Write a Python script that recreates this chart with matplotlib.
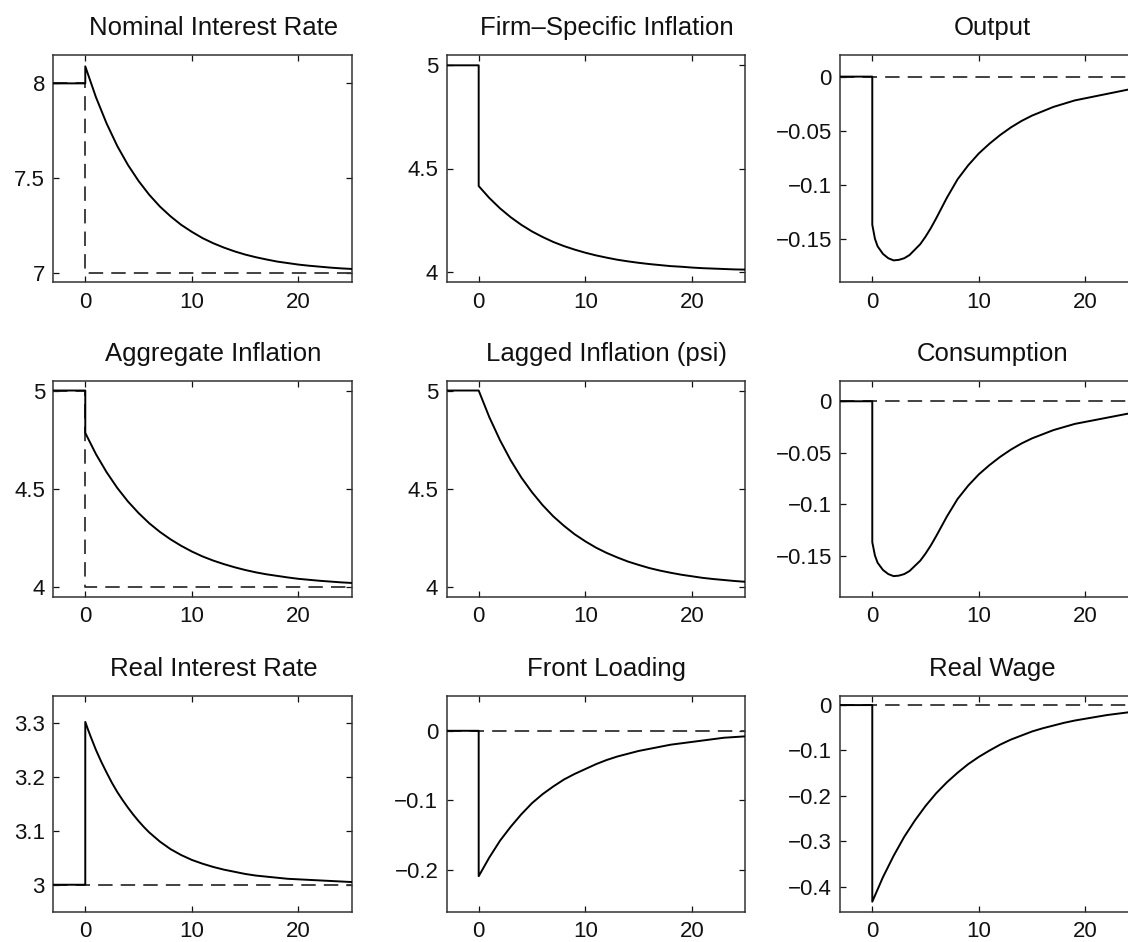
import matplotlib
matplotlib.use("Agg")
import matplotlib.pyplot as plt

plt.rcParams['font.family'] = ['Liberation Sans', 'DejaVu Sans']

# ---------------- data ----------------
t_pre = [-3, 0]
t_int = list(range(0, 26))
t_fine = [0, 0.25, 0.5, 1, 1.5, 2, 2.5, 3, 3.5, 4, 4.5, 5, 5.5, 6] + list(range(7, 26))

titles = ["Nominal Interest Rate", "Firm\u2013Specific Inflation", "Output",
          "Aggregate Inflation", "Lagged Inflation (psi)", "Consumption",
          "Real Interest Rate", "Front Loading", "Real Wage"]

# values on t_int
nominal_rate = [8.090, 7.927, 7.788, 7.669, 7.569, 7.484, 7.411, 7.349, 7.297, 7.252,
                7.215, 7.182, 7.155, 7.132, 7.112, 7.095, 7.081, 7.069, 7.058, 7.050,
                7.042, 7.036, 7.031, 7.026, 7.022, 7.019]
firm_inflation = [4.415, 4.357, 4.307, 4.264, 4.227, 4.195, 4.168, 4.144, 4.124, 4.107,
                  4.092, 4.079, 4.068, 4.058, 4.050, 4.043, 4.037, 4.032, 4.027, 4.024,
                  4.020, 4.017, 4.015, 4.013, 4.011, 4.010]
agg_inflation = [4.784, 4.676, 4.584, 4.504, 4.435, 4.376, 4.324, 4.280, 4.242, 4.209,
                 4.180, 4.155, 4.134, 4.116, 4.100, 4.086, 4.074, 4.064, 4.056, 4.048,
                 4.041, 4.036, 4.031, 4.027, 4.023, 4.020]
lagged_inflation = [5.000, 4.864, 4.747, 4.645, 4.557, 4.482, 4.416, 4.359, 4.311, 4.268,
                    4.232, 4.200, 4.173, 4.150, 4.129, 4.112, 4.096, 4.083, 4.072, 4.062,
                    4.054, 4.046, 4.040, 4.035, 4.030, 4.026]
front_loading = [-0.209, -0.182, -0.158, -0.138, -0.120, -0.104, -0.091, -0.080, -0.070, -0.062,
                 -0.055, -0.048, -0.042, -0.037, -0.033, -0.029, -0.026, -0.023, -0.020, -0.018,
                 -0.016, -0.014, -0.012, -0.010, -0.009, -0.008]
real_wage = [-0.433, -0.379, -0.332, -0.290, -0.254, -0.222, -0.194, -0.170, -0.149, -0.130,
             -0.114, -0.100, -0.087, -0.076, -0.067, -0.058, -0.051, -0.045, -0.039, -0.034,
             -0.030, -0.026, -0.022, -0.019, -0.016, -0.014]

# values on t_fine
output = [-0.137, -0.150, -0.157, -0.164, -0.168, -0.170, -0.1695, -0.168, -0.165, -0.160,
          -0.155, -0.148, -0.140, -0.131,
          -0.112, -0.095, -0.082, -0.071, -0.062, -0.054, -0.047, -0.041, -0.036, -0.032,
          -0.028, -0.025, -0.022, -0.020, -0.018, -0.016, -0.014, -0.012, -0.011]
consumption = [-0.137, -0.150, -0.157, -0.164, -0.168, -0.170, -0.1695, -0.168, -0.165, -0.160,
               -0.155, -0.148, -0.140, -0.131,
               -0.112, -0.095, -0.082, -0.071, -0.062, -0.054, -0.047, -0.041, -0.036, -0.032,
               -0.028, -0.025, -0.022, -0.020, -0.018, -0.016, -0.014, -0.012, -0.011]
real_rate = [3.302, 3.288, 3.275, 3.250, 3.228, 3.208, 3.189, 3.172, 3.157, 3.143,
             3.130, 3.118, 3.107, 3.097,
             3.080, 3.066, 3.055, 3.046, 3.039, 3.033, 3.028, 3.024, 3.020, 3.017,
             3.015, 3.013, 3.011, 3.010, 3.009, 3.008, 3.007, 3.006, 3.005]

series = [nominal_rate, firm_inflation, output, agg_inflation, lagged_inflation,
          consumption, real_rate, front_loading, real_wage]
times = [t_int, t_int, t_fine, t_int, t_int, t_fine, t_fine, t_int, t_int]
old_ss = [8, 5, 0, 5, 5, 0, 3, 0, 0]
new_ss = [7, None, 0, 4, None, 0, 3, 0, 0]

ylims = [(6.95, 8.15), (3.95, 5.05), (-0.19, 0.02),
         (3.95, 5.05), (3.95, 5.05), (-0.19, 0.02),
         (2.95, 3.35), (-0.26, 0.05), (-0.455, 0.02)]
yticks = [[7, 7.5, 8], [4, 4.5, 5], [-0.15, -0.1, -0.05, 0],
          [4, 4.5, 5], [4, 4.5, 5], [-0.15, -0.1, -0.05, 0],
          [3, 3.1, 3.2, 3.3], [-0.2, -0.1, 0], [-0.4, -0.3, -0.2, -0.1, 0]]
yticklabels = [["7", "7.5", "8"], ["4", "4.5", "5"],
               ["\u22120.15", "\u22120.1", "\u22120.05", "0"],
               ["4", "4.5", "5"], ["4", "4.5", "5"],
               ["\u22120.15", "\u22120.1", "\u22120.05", "0"],
               ["3", "3.1", "3.2", "3.3"], ["\u22120.2", "\u22120.1", "0"],
               ["\u22120.4", "\u22120.3", "\u22120.2", "\u22120.1", "0"]]
xticks = [0, 10, 20]
xlim = (-3, 25)

# ---------------- layout ----------------
W, H = 1128, 942
fig = plt.figure(figsize=(W / 100, H / 100), dpi=100)
fig.patch.set_facecolor("white")

col_left = [53.3, 446.7, 840.3]
ax_w = 298.5
rows = [(55, 282), (380.7, 596.7), (696, 911.7)]
title_x = [0.537, 0.537, 0.51]

for i in range(9):
    r, c = divmod(i, 3)
    top, bot = rows[r]
    ax = fig.add_axes([col_left[c] / W, 1 - bot / H, ax_w / W, (bot - top) / H])
    x = t_pre + times[i]
    y = [old_ss[i], old_ss[i]] + series[i]
    if new_ss[i] is not None:
        ax.plot([-3, 0, 0, 25], [old_ss[i], old_ss[i], new_ss[i], new_ss[i]],
                color="#333333", lw=1.3, ls=(0, (8, 4.5)), zorder=2)
    ax.plot(x, y, color="black", lw=1.4, zorder=3, solid_joinstyle="round")
    ax.set_xlim(*xlim)
    ax.set_ylim(*ylims[i])
    ax.set_xticks(xticks)
    ax.set_xticklabels([str(v) for v in xticks])
    ax.set_yticks(yticks[i])
    ax.set_yticklabels(yticklabels[i])
    ax.tick_params(direction="in", top=True, right=True, length=4.5, width=0.9,
                   labelsize=16, colors="#111111")
    ax.tick_params(axis="x", pad=7)
    ax.tick_params(axis="y", pad=6)
    for s in ax.spines.values():
        s.set_linewidth(1.1)
        s.set_color("#333333")
    ax.text(title_x[c], 1 + 20 / (bot - top), titles[i], transform=ax.transAxes,
            ha="center", va="baseline", fontsize=18.5, color="#111111")

fig.savefig("out.png", dpi=100, facecolor="white")
